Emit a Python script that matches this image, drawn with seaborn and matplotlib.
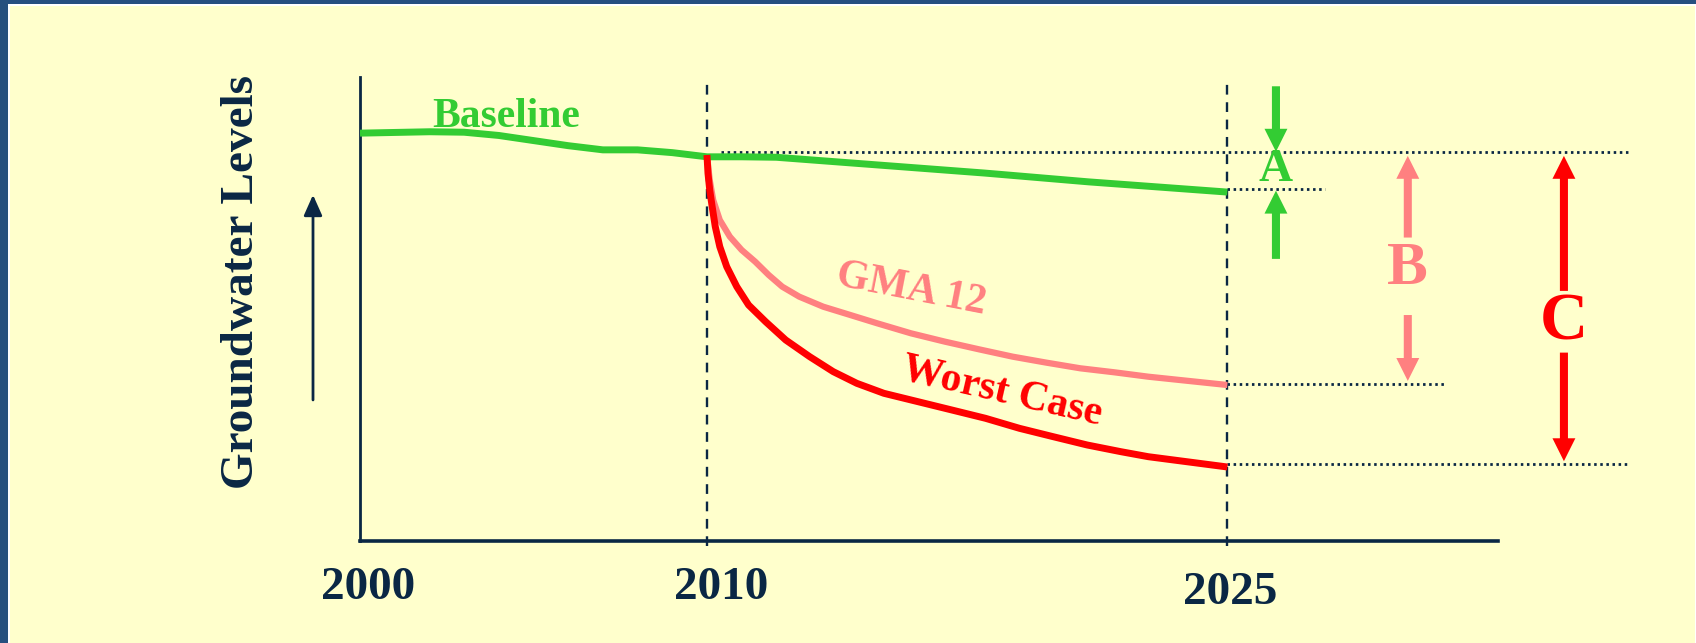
import numpy as np
import pandas as pd
import matplotlib
matplotlib.use("Agg")
import matplotlib.pyplot as plt
from matplotlib.patches import Rectangle
from matplotlib.transforms import ScaledTranslation
import seaborn as sns

# schematic groundwater levels (arbitrary units, 0 = bottom of axis, 100 = top)
baseline_years = [2000, 2002, 2003, 2004, 2005, 2006, 2007, 2008, 2009, 2010, 2011, 2012, 2015, 2018, 2021, 2025]
baseline_level = [87.9, 88.2, 88.1, 87.4, 86.3, 85.2, 84.3, 84.3, 83.7, 82.8, 82.8, 82.7, 81.0, 79.3, 77.4, 75.2]

gma_years = [2010.00, 2010.08, 2010.18, 2010.37, 2010.66, 2011.00, 2011.39, 2011.78, 2012.17,
             2012.66, 2013.35, 2014.13, 2014.91, 2015.88, 2016.86, 2017.84, 2018.81, 2019.79,
             2020.76, 2021.74, 2022.72, 2025.00]
gma_level = [83.19, 77.80, 73.49, 69.18, 65.59, 62.72, 60.20, 57.33, 54.81,
             52.66, 50.50, 48.71, 46.91, 44.76, 42.96, 41.31, 39.73, 38.43,
             37.22, 36.36, 35.41, 33.62]

worst_years = [2010.00, 2010.03, 2010.08, 2010.15, 2010.24, 2010.37, 2010.57, 2010.86, 2011.20,
               2011.69, 2012.27, 2012.96, 2013.64, 2014.32, 2015.10, 2016.08, 2017.06, 2018.03,
               2019.01, 2019.98, 2020.96, 2021.93, 2022.72, 2025.00]
worst_level = [83.19, 79.24, 75.65, 72.06, 67.74, 63.43, 59.12, 54.81, 50.86,
               47.27, 43.32, 39.73, 36.50, 33.98, 31.83, 30.03, 28.23, 26.44,
               24.28, 22.48, 20.69, 19.25, 18.17, 15.95]

tick_years = [2000, 2010, 2025]
tick_labels = ["2000", "2010", "2025"]

# reference levels for the A / B / C comparison
ref_2010 = 83.8
end_baseline = 75.8
end_gma = 33.8
end_worst = 16.5

GREEN = "#33cc33"
PINK = "#ff8080"
RED = "#ff0000"
NAVY = "#0a2744"
YELLOW = "#ffffcc"
BORDER = "#264f7f"

sns.set_theme(style="white")
plt.rcParams["font.family"] = ["Liberation Serif", "DejaVu Serif"]
plt.rcParams["font.weight"] = "bold"
plt.rcParams["lines.scale_dashes"] = False

fig = plt.figure(figsize=(16.96, 6.43), dpi=100, facecolor=YELLOW)

# slide border (blue strip + thin white line)
W, H = 1696, 643
def px_rect(x, y, w, h, c):
    fig.add_artist(Rectangle((x / W, 1 - (y + h) / H), w / W, h / H,
                             transform=fig.transFigure, color=c, lw=0, zorder=0))
px_rect(0, 0, 8, H, BORDER)
px_rect(0, 0, W, 4, BORDER)
px_rect(8, 4, 2, H, "white")
px_rect(8, 4, W, 2, "white")
px_rect(W - 1, 4, 1, H, "white")

ax = fig.add_axes([360 / W, (H - 541) / H, 1138 / W, 464 / H])
ax.set_facecolor("none")

sns.lineplot(x=baseline_years, y=baseline_level, color=GREEN, lw=5, ax=ax,
             solid_capstyle="butt", solid_joinstyle="round", zorder=4)
sns.lineplot(x=gma_years, y=gma_level, color=PINK, lw=4.5, ax=ax,
             solid_capstyle="butt", solid_joinstyle="round", zorder=3)
sns.lineplot(x=worst_years, y=worst_level, color=RED, lw=5, ax=ax,
             solid_capstyle="butt", solid_joinstyle="round", zorder=5)

ax.set_xlim(2000, 2032.8)
ax.set_ylim(0, 100)

for s in ["top", "right"]:
    ax.spines[s].set_visible(False)
ax.spines["left"].set_color(NAVY)
ax.spines["left"].set_linewidth(2)
ax.spines["bottom"].set_color(NAVY)
ax.spines["bottom"].set_linewidth(2.6)

ax.set_yticks([])
ax.set_xticks(tick_years)
ax.set_xticklabels(tick_labels, fontsize=34, fontweight="bold", color=NAVY)
ax.tick_params(axis="x", length=0, pad=19)
shifts = [(8, 0), (14, 0), (3, -5)]
for lab, (dx, dy) in zip(ax.get_xticklabels(), shifts):
    lab.set_transform(lab.get_transform() + ScaledTranslation(dx / 100, dy / 100, fig.dpi_scale_trans))

ax.set_ylabel("Groundwater Levels", fontsize=34, fontweight="bold", color=NAVY)
ax.yaxis.set_label_coords(-0.085, 0.558)

# upward arrow beside the y label
ax.annotate("", xy=(-0.0413, 0.746), xytext=(-0.0413, 0.304), xycoords="axes fraction",
            arrowprops=dict(arrowstyle="-|>,head_length=0.9,head_width=0.4", color=NAVY,
                            lw=2, mutation_scale=14, shrinkA=0, shrinkB=0),
            annotation_clip=False)

# dashed year markers
for yr in [2010, 2025]:
    ax.plot([yr, yr], [-1, 98.5], color=NAVY, lw=1.7, dashes=(7, 5.5), clip_on=False, zorder=2)

# dotted reference lines
dot = dict(color=NAVY, lw=2.0, dashes=(1.8, 2.6), clip_on=False, zorder=2)
ax.plot([2010.4, 2036.6], [ref_2010, ref_2010], **dot)
ax.plot([2025.0, 2027.8], [end_baseline, end_baseline], **dot)
ax.plot([2025.0, 2031.3], [end_gma, end_gma], **dot)
ax.plot([2025.0, 2036.6], [end_worst, end_worst], **dot)

def arrow(x, y0, y1, c):
    ax.annotate("", xy=(x, y1), xytext=(x, y0), xycoords="data",
                arrowprops=dict(arrowstyle="simple,head_length=16.5,head_width=16.5,tail_width=5.8",
                                color=c, lw=0, mutation_scale=1, shrinkA=0, shrinkB=0),
                annotation_clip=False)

# A
arrow(2026.4, 98.0, 83.9, GREEN)
arrow(2026.4, 60.8, 75.5, GREEN)
ax.text(2026.4, 80.0, "A", color=GREEN, fontsize=34, fontweight="bold", ha="center", va="center")
# B
arrow(2030.2, 65.4, 83.0, PINK)
arrow(2030.2, 48.7, 34.5, PINK)
ax.text(2030.2, 58.6, "B", color=PINK, fontsize=44, fontweight="bold", ha="center", va="center")
# C
arrow(2034.7, 53.9, 83.0, RED)
arrow(2034.7, 40.6, 17.2, RED)
ax.text(2034.7, 46.9, "C", color=RED, fontsize=48, fontweight="bold", ha="center", va="center")

# curve labels
ax.text(2004.2, 89.2, "Baseline", color=GREEN, fontsize=30, fontweight="bold",
        ha="center", va="baseline")
ax.text(2015.9, 54.1, "GMA 12", color=PINK, fontsize=30, fontweight="bold",
        ha="center", va="center", rotation=-11, rotation_mode="anchor")
ax.text(2018.5, 32.2, "Worst Case", color=RED, fontsize=30, fontweight="bold",
        ha="center", va="center", rotation=-13, rotation_mode="anchor")

fig.savefig("out.png", dpi=100, facecolor=YELLOW)
